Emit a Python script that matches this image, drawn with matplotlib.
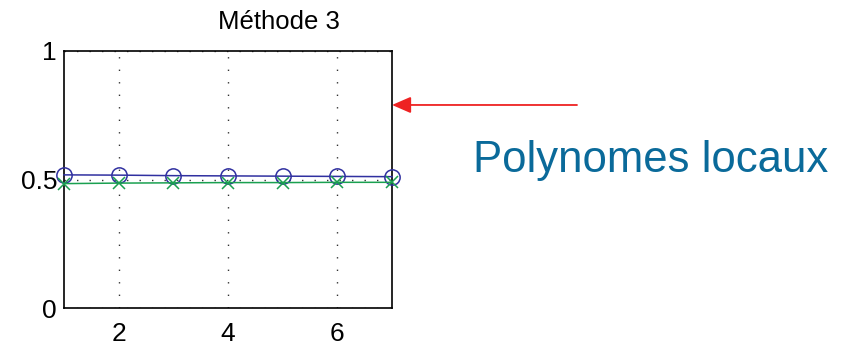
import matplotlib
matplotlib.use("Agg")
import matplotlib.pyplot as plt

x = [1, 2, 3, 4, 5, 6, 7]
blue_vals = [0.518, 0.517, 0.515, 0.514, 0.513, 0.512, 0.511]
green_vals = [0.484, 0.486, 0.487, 0.488, 0.488, 0.489, 0.489]
xticks = [2, 4, 6]
yticks = [0, 0.5, 1]
title = "Méthode 3"
annotation = "Polynomes locaux"
arrow_y = 0.79

plt.rcParams['font.family'] = ['Liberation Sans', 'DejaVu Sans']

fig = plt.figure(figsize=(8.47, 3.45), dpi=100)
ax = fig.add_axes([64/847, 1 - 308/345, (392-64)/847, (308-51)/345])

ax.plot(x, blue_vals, color='#3030a0', lw=1.1, marker='o', ms=11,
        mfc='none', mec='#3030a0', mew=1.1, clip_on=False, zorder=3)
ax.plot(x, green_vals, color='#1aa050', lw=1.1, marker='x', ms=8,
        mec='#1aa050', mew=1.1, clip_on=False, zorder=3)

ax.set_xlim(1, 7)
ax.set_ylim(0, 1)
ax.set_xticks(xticks)
ax.set_yticks(yticks)
ax.set_yticklabels(['0', '0.5', '1'])
ax.tick_params(labelsize=19, length=0)
ax.tick_params(axis='x', pad=10)
ax.tick_params(axis='y', pad=5)
ax.grid(True, linestyle=(0, (1, 8)), color='#333333', lw=1.0)
for s in ax.spines.values():
    s.set_linewidth(1.2)

fig.text(279/847, 1 - 22/345, title, fontsize=18.5, ha='center', va='center')

ax.annotate('', xy=(7.0, arrow_y), xycoords='data',
            xytext=(577/847, 1 - 105/345), textcoords='figure fraction',
            arrowprops=dict(arrowstyle='-|>,head_length=1.15,head_width=0.5',
                            color='#ee2222', lw=1.3, shrinkA=0, shrinkB=0),
            annotation_clip=False)
fig.text(473/847, 1 - 160/345, annotation, fontsize=31.5, color='#0a6a9a',
         ha='left', va='center')

fig.savefig('out.png', dpi=100)
